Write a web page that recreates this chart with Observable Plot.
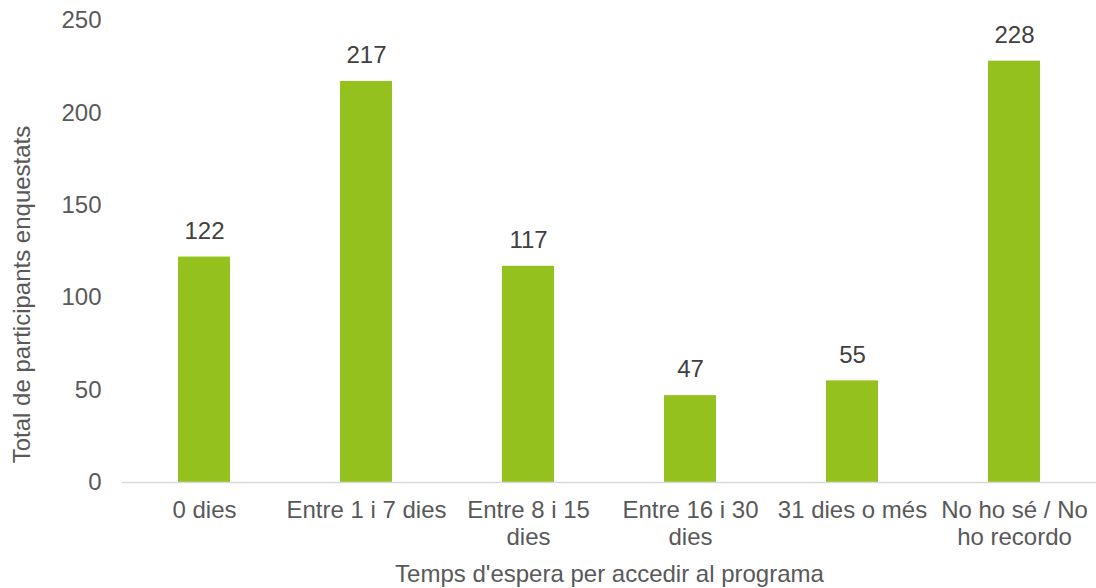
<!DOCTYPE html>
<html>
<head>
<meta charset="utf-8">
<script src="https://cdn.jsdelivr.net/npm/d3@7"></script>
<script src="https://cdn.jsdelivr.net/npm/@observablehq/plot@0.6"></script>
<style>
  html, body { margin: 0; padding: 0; background: #fff; }
  #chart { width: 1096px; height: 588px; }
</style>
</head>
<body>
<div id="chart"></div>
<script>
const categories = ["0 dies", "Entre 1 i 7 dies", "Entre 8 i 15\ndies", "Entre 16 i 30\ndies", "31 dies o més", "No ho sé / No\nho recordo"];
const values = [122, 217, 117, 47, 55, 228];
const yTicks = [0, 50, 100, 150, 200, 250];

const data = categories.map((c, i) => ({category: c, value: values[i]}));

const chart = Plot.plot({
  width: 1096,
  height: 588,
  marginLeft: 122,
  marginRight: 0,
  marginTop: 20,
  marginBottom: 106,
  style: {fontFamily: "Arial, 'Liberation Sans', sans-serif", fontSize: "24px", color: "#595959", background: "#fff"},
  x: {domain: categories, paddingInner: 0.68, paddingOuter: 0.34, label: null},
  y: {domain: [0, 250], label: null},
  marks: [
    Plot.barY(data, {x: "category", y: "value", fill: "#95C11F"}),
    Plot.ruleY([0], {stroke: "#d9d9d9", strokeWidth: 1.5}),
    Plot.text(data, {x: "category", y: "value", text: d => String(d.value), lineAnchor: "middle", dy: -26, fill: "#404040", fontSize: 24}),
    Plot.axisY({ticks: yTicks, tickSize: 0, tickPadding: 21, fill: "#595959", fontSize: 24, label: null}),
    Plot.axisX({tickSize: 0, tickPadding: 17, lineAnchor: "top", lineHeight: 1.1, fill: "#595959", fontSize: 24, label: null}),
    Plot.text(["Temps d'espera per accedir al programa"], {frameAnchor: "bottom", lineAnchor: "middle", dy: 92, fill: "#595959", fontSize: 24}),
    Plot.text(["Total de participants enquestats"], {frameAnchor: "left", textAnchor: "middle", lineAnchor: "middle", dx: -100, dy: 43, rotate: -90, fill: "#595959", fontSize: 24})
  ]
});
document.getElementById("chart").appendChild(chart);
</script>
</body>
</html>
